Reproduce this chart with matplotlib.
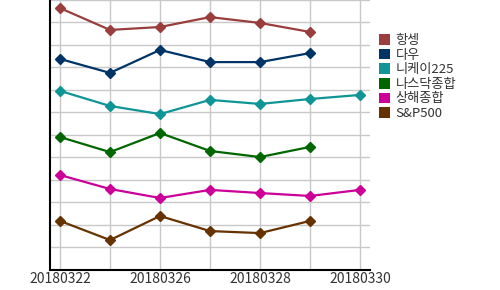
import matplotlib
matplotlib.use("Agg")
import matplotlib.pyplot as plt
from matplotlib.patches import Patch

plt.rcParams['font.family'] = ['Noto Sans CJK KR', 'DejaVu Sans']

# dates on the x axis (only every other one labelled)
dates = ["20180322", "20180323", "20180326", "20180327", "20180328", "20180329", "20180330"]
tick_labels = ["20180322", "", "20180326", "", "20180328", "", "20180330"]

# index levels (normalised)
names = ["항셍", "다우", "니케이225", "나스닥종합", "상해종합", "S&P500"]
hangseng = [11.64, 10.67, 10.80, 11.24, 10.98, 10.58, None]
dow = [9.38, 8.76, 9.78, 9.24, 9.24, 9.64, None]
nikkei = [7.96, 7.29, 6.93, 7.56, 7.38, 7.60, 7.78]
nasdaq = [5.91, 5.24, 6.09, 5.29, 5.02, 5.47, None]
shanghai = [4.22, 3.60, 3.20, 3.56, 3.42, 3.29, 3.56]
sp500 = [2.18, 1.33, 2.40, 1.73, 1.64, 2.18, None]
colors = ["#993d3d", "#003366", "#0f9595", "#006600", "#cc0099", "#663300"]

series = [hangseng, dow, nikkei, nasdaq, shanghai, sp500]

fig = plt.figure(figsize=(5, 2.9), dpi=100)
ax = fig.add_axes([0.1, 0.069, 0.64, 0.931])

for vals, col in zip(series, colors):
    xs = [i for i, v in enumerate(vals) if v is not None]
    ys = [v for v in vals if v is not None]
    ax.plot(xs, ys, color=col, lw=1.6, marker="D", markersize=5.5, zorder=3)

ax.set_xlim(-0.2, 6.2)
ax.set_ylim(0, 12)
ax.set_xticks(range(len(dates)))
ax.set_xticklabels(tick_labels, fontsize=10, color="#333333")
ax.set_yticks(range(0, 13))
ax.set_yticklabels([])
ax.tick_params(length=0, pad=1.5)
ax.grid(True, color="#c8c8c8", lw=1)
ax.set_axisbelow(True)
for s in ["top", "right"]:
    ax.spines[s].set_visible(False)
ax.spines["left"].set_linewidth(1.5)
ax.spines["bottom"].set_linewidth(1.5)

handles = [Patch(facecolor=c, edgecolor="none") for c in colors]
fig.legend(handles, names, loc="upper left", bbox_to_anchor=(0.745, 0.905),
           frameon=False, fontsize=9.5, handlelength=0.85, handleheight=0.85,
           handletextpad=0.4, labelspacing=0.12, borderpad=0, labelcolor="#333333")

fig.savefig("out.png", dpi=100)
